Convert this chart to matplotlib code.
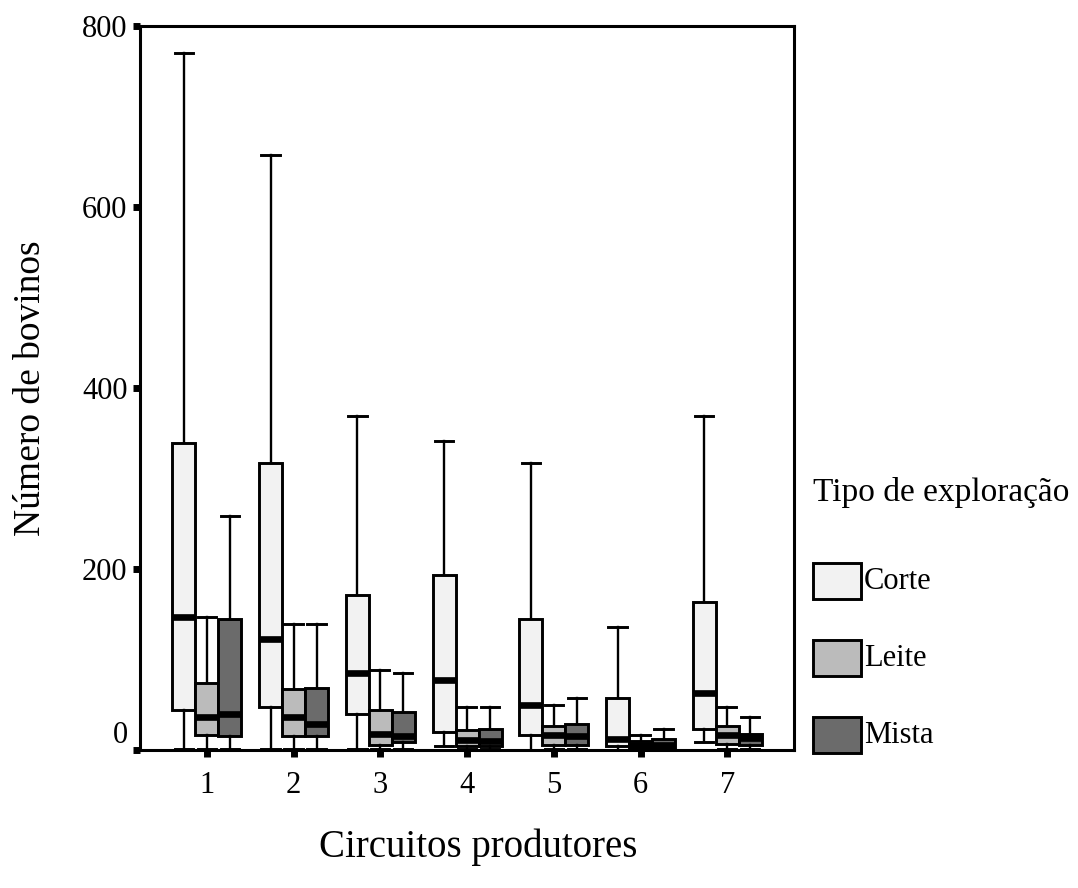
import matplotlib.pyplot as plt
from matplotlib.patches import Rectangle

# dados (numero de bovinos por circuito e tipo de exploracao)
circuitos = [1, 2, 3, 4, 5, 6, 7]
tipos = ['Corte', 'Leite', 'Mista']
cores = ['#f2f2f2', '#bbbbbb', '#6b6b6b']

corte_whishi = [770, 657, 369, 342, 317, 136, 369]
corte_q3 = [339, 317, 171, 193, 145, 58, 164]
corte_med = [147, 123, 85, 77, 50, 12, 63]
corte_q1 = [44, 47, 40, 20, 17, 4, 23]
corte_whislo = [1, 1, 1, 4, 0, 0, 9]

leite_whishi = [147, 139, 88, 47, 50, 17, 47]
leite_q3 = [74, 67, 44, 22, 26, 10, 26]
leite_med = [37, 36, 18, 11, 17, 6, 17]
leite_q1 = [17, 15, 6, 4, 6, 1, 7]
leite_whislo = [1, 1, 1, 1, 1, 0, 1]

mista_whishi = [259, 139, 85, 47, 57, 23, 36]
mista_q3 = [145, 69, 42, 23, 29, 12, 18]
mista_med = [40, 29, 16, 10, 16, 6, 13]
mista_q1 = [15, 15, 9, 4, 6, 1, 6]
mista_whislo = [1, 1, 1, 1, 1, 0, 1]

series = [
    (corte_whislo, corte_q1, corte_med, corte_q3, corte_whishi),
    (leite_whislo, leite_q1, leite_med, leite_q3, leite_whishi),
    (mista_whislo, mista_q1, mista_med, mista_q3, mista_whishi),
]

plt.rcParams['font.family'] = ['Liberation Serif', 'DejaVu Serif']

fig = plt.figure(figsize=(10.78, 8.88), dpi=100)
ax = fig.add_axes([0.1299, 0.1554, 0.6067, 0.8153])

largura = 0.265
for k, (lo, q1, med, q3, hi) in enumerate(series):
    stats = []
    for i in range(len(circuitos)):
        stats.append({'whislo': lo[i], 'q1': q1[i], 'med': med[i],
                      'q3': q3[i], 'whishi': hi[i], 'fliers': []})
    pos = [c + (k - 1) * largura for c in circuitos]
    ax.bxp(stats, positions=pos, widths=largura, patch_artist=True,
           showfliers=False, capwidths=largura * 0.8,
           boxprops=dict(facecolor=cores[k], edgecolor='black', linewidth=2.1),
           medianprops=dict(color='black', linewidth=4.8, solid_capstyle='butt'),
           whiskerprops=dict(color='black', linewidth=1.7),
           capprops=dict(color='black', linewidth=2.1),
           manage_ticks=False)

ax.set_xlim(0.23, 7.77)
ax.set_ylim(0, 800)
ax.set_xticks(circuitos)
ax.set_xticklabels([str(c) for c in circuitos])
ax.set_yticks([0, 200, 400, 600, 800])

for s in ax.spines.values():
    s.set_linewidth(2.2)

ax.tick_params(axis='y', direction='out', length=5, width=5, pad=4, labelsize=22)
ax.tick_params(axis='x', direction='out', length=5, width=5, pad=10, labelsize=22)
ax.get_yticklabels()[0].set_va('bottom')

ax.set_ylabel('Número de bovinos', fontsize=27)
ax.yaxis.set_label_coords(-0.14, 0.5)
ax.set_xlabel('Circuitos produtores', fontsize=28)
ax.xaxis.set_label_coords(0.517, -0.108)

# legenda
W, H = 1078, 888
fig.text(813 / W, 1 - 492 / H, 'Tipo de exploração', fontsize=24,
         ha='left', va='center')
for i, (tipo, cor) in enumerate(zip(tipos, cores)):
    yc = 581 + 77 * i
    fig.add_artist(Rectangle((813 / W, 1 - (yc + 18) / H), 48 / W, 36 / H,
                             transform=fig.transFigure, facecolor=cor,
                             edgecolor='black', linewidth=2.1))
    fig.text(864 / W, 1 - yc / H, tipo, fontsize=22, ha='left', va='center')

fig.savefig('out.png', dpi=100)
